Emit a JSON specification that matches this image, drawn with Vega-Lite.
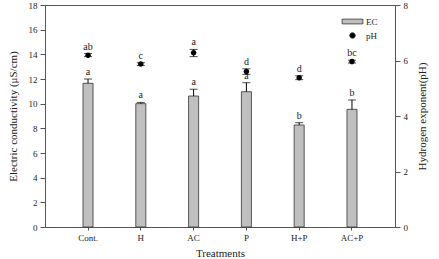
{
  "$schema": "https://vega.github.io/schema/vega-lite/v6.json",
  "width": 350,
  "height": 222,
  "autosize": {"type": "none"},
  "padding": {"left": 45, "top": 5, "right": 44, "bottom": 32},
  "config": {
    "font": "Liberation Serif",
    "view": {"stroke": "#555555", "strokeWidth": 1},
    "axis": {
      "labelFont": "Liberation Serif",
      "titleFont": "Liberation Serif",
      "labelFontSize": 9,
      "titleFontSize": 11,
      "titleFontWeight": "normal",
      "labelColor": "#222222",
      "titleColor": "#222222",
      "domainColor": "#555555",
      "tickColor": "#555555",
      "labelOverlap": false,
      "grid": false
    },
    "axisQuantitative": {"labelOverlap": false},
    "legend": {"labelFont": "Liberation Serif", "labelFontSize": 9, "labelColor": "#222222"}
  },
  "data": {
    "values": [
      {"treatment": "Cont.", "ec": 11.65, "ec_hi": 12.0, "ec_lab": "a", "ph": 6.19, "ph_lo": 6.14, "ph_hi": 6.25, "ph_lab": "ab"},
      {"treatment": "H", "ec": 10.0, "ec_hi": 10.1, "ec_lab": "a", "ph": 5.87, "ph_lo": 5.82, "ph_hi": 5.92, "ph_lab": "c"},
      {"treatment": "AC", "ec": 10.62, "ec_hi": 11.17, "ec_lab": "a", "ph": 6.28, "ph_lo": 6.14, "ph_hi": 6.4, "ph_lab": "a"},
      {"treatment": "P", "ec": 10.97, "ec_hi": 11.7, "ec_lab": "a", "ph": 5.6, "ph_lo": 5.5, "ph_hi": 5.7, "ph_lab": "d"},
      {"treatment": "H+P", "ec": 8.27, "ec_hi": 8.46, "ec_lab": "b", "ph": 5.38, "ph_lo": 5.31, "ph_hi": 5.45, "ph_lab": "d"},
      {"treatment": "AC+P", "ec": 9.54, "ec_hi": 10.3, "ec_lab": "b", "ph": 5.96, "ph_lo": 5.91, "ph_hi": 6.01, "ph_lab": "bc"}
    ]
  },
  "encoding": {
    "x": {
      "field": "treatment",
      "type": "nominal",
      "sort": null,
      "scale": {"paddingInner": 0.81, "paddingOuter": 0.72},
      "axis": {"labelAngle": 0, "title": "Treatments", "tickSize": 3, "labelPadding": 3, "titlePadding": 5}
    }
  },
  "layer": [
    {
      "layer": [
        {
          "mark": {"type": "bar", "stroke": "#333333", "strokeWidth": 0.8},
          "encoding": {
            "y": {
              "field": "ec",
              "type": "quantitative",
              "scale": {"domain": [0, 18], "nice": false},
              "axis": {"title": "Electric conductivity (μS/cm)", "values": [0, 2, 4, 6, 8, 10, 12, 14, 16, 18], "labelOverlap": false, "labelBound": false, "tickSize": 5, "labelPadding": 3, "titlePadding": 10}
            },
            "color": {
              "datum": "EC",
              "scale": {"domain": ["EC", "pH"], "range": ["#c0c0c0", "#000000"]},
              "legend": {
                "title": null,
                "orient": "none",
                "legendX": 299,
                "legendY": 8,
                "symbolSize": 256,
                "symbolStrokeColor": "#333333",
                "symbolStrokeWidth": 0.8,
                "rowPadding": -8,
                "labelOffset": 5
              }
            }
          }
        },
        {
          "mark": {"type": "rule", "color": "#000000", "strokeWidth": 1},
          "encoding": {"y": {"field": "ec", "type": "quantitative", "axis": {"title": "Electric conductivity (μS/cm)", "values": [0, 2, 4, 6, 8, 10, 12, 14, 16, 18], "labelOverlap": false}}, "y2": {"field": "ec_hi"}}
        },
        {
          "mark": {"type": "tick", "color": "#000000", "size": 8, "thickness": 1},
          "encoding": {"y": {"field": "ec_hi", "type": "quantitative", "axis": {"title": "Electric conductivity (μS/cm)", "values": [0, 2, 4, 6, 8, 10, 12, 14, 16, 18], "labelOverlap": false}}}
        },
        {
          "mark": {"type": "text", "baseline": "bottom", "dy": -2, "fontSize": 10, "color": "#222222"},
          "encoding": {"y": {"field": "ec_hi", "type": "quantitative", "axis": {"title": "Electric conductivity (μS/cm)", "values": [0, 2, 4, 6, 8, 10, 12, 14, 16, 18], "labelOverlap": false}}, "text": {"field": "ec_lab"}}
        }
      ]
    },
    {
      "layer": [
        {
          "mark": {"type": "point", "filled": true, "size": 250, "opacity": 1},
          "encoding": {
            "y": {
              "field": "ph",
              "type": "quantitative",
              "scale": {"domain": [0, 8], "nice": false},
              "axis": {"orient": "right", "title": "Hydrogen exponent(pH)", "values": [0, 2, 4, 6, 8], "labelOverlap": false, "tickSize": 5, "labelPadding": 3, "titlePadding": 20, "titleAngle": -90}
            },
            "color": {"datum": "pH"},
            "shape": {
              "datum": "pH",
              "scale": {"domain": ["EC", "pH"], "range": ["M-1.3,-0.3H1.3V0.3H-1.3Z", "M-0.35,0A0.35,0.35 0 1,0 0.35,0A0.35,0.35 0 1,0 -0.35,0Z"]},
              "legend": null
            }
          }
        },
        {
          "mark": {"type": "rule", "color": "#000000", "strokeWidth": 1},
          "encoding": {"y": {"field": "ph_lo", "type": "quantitative"}, "y2": {"field": "ph_hi"}}
        },
        {
          "mark": {"type": "tick", "color": "#000000", "size": 8, "thickness": 1},
          "encoding": {"y": {"field": "ph_hi", "type": "quantitative"}}
        },
        {
          "mark": {"type": "tick", "color": "#000000", "size": 8, "thickness": 1},
          "encoding": {"y": {"field": "ph_lo", "type": "quantitative"}}
        },
        {
          "mark": {"type": "text", "baseline": "bottom", "dy": -2, "fontSize": 10, "color": "#222222"},
          "encoding": {"y": {"field": "ph_hi", "type": "quantitative"}, "text": {"field": "ph_lab"}}
        }
      ]
    }
  ],
  "resolve": {"scale": {"y": "independent"}}
}
